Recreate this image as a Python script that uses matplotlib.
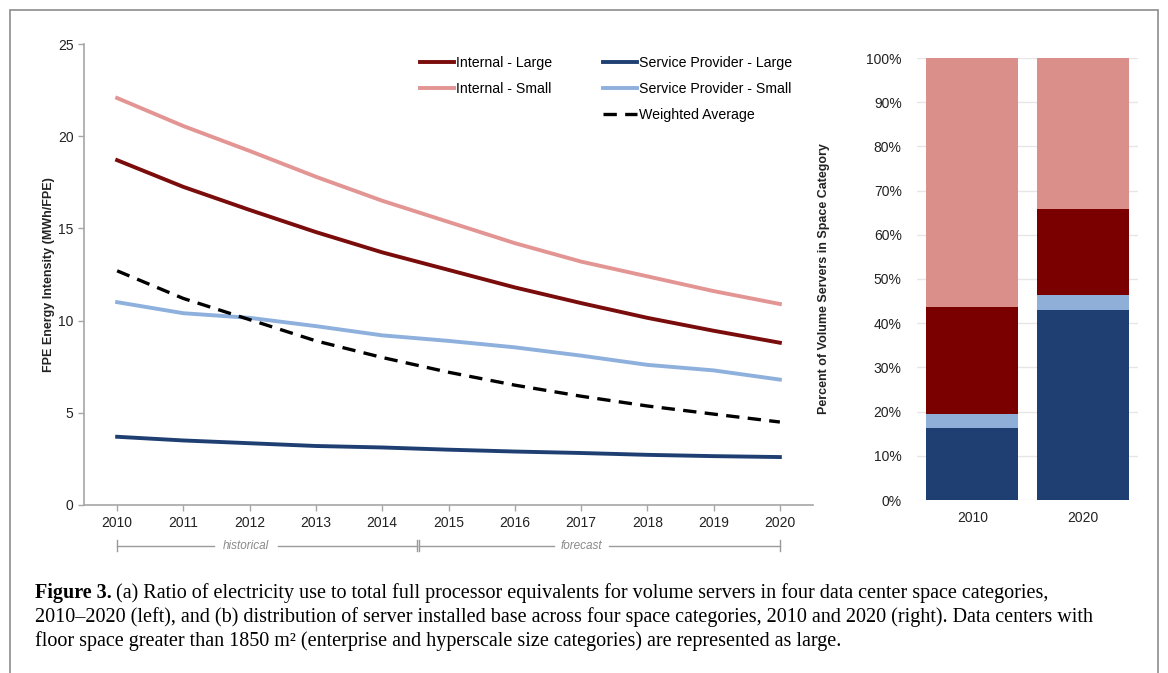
import numpy as np
import matplotlib.pyplot as plt
from matplotlib.lines import Line2D
from matplotlib.patches import Rectangle

plt.rcParams['font.family'] = ['Liberation Sans', 'DejaVu Sans']

# FPE energy intensity (MWh/FPE) by space category
years = [2010, 2011, 2012, 2013, 2014, 2015, 2016, 2017, 2018, 2019, 2020]
internal_large = [18.7, 17.25, 16.0, 14.8, 13.7, 12.75, 11.8, 10.95, 10.15, 9.45, 8.8]
internal_small = [22.07, 20.55, 19.2, 17.8, 16.5, 15.35, 14.2, 13.2, 12.4, 11.6, 10.9]
sp_large = [3.7, 3.5, 3.35, 3.2, 3.12, 3.0, 2.9, 2.82, 2.72, 2.65, 2.6]
sp_small = [11.0, 10.4, 10.15, 9.7, 9.2, 8.9, 8.55, 8.1, 7.6, 7.3, 6.8]
weighted_avg = [12.7, 11.2, 10.05, 8.9, 8.0, 7.2, 6.5, 5.9, 5.37, 4.93, 4.5]

# installed base share (%) in 2010 and 2020
bar_years = ['2010', '2020']
share_sp_large = [16.3, 42.9]
share_sp_small = [3.2, 3.5]
share_int_large = [24.1, 19.4]
share_int_small = [56.4, 34.2]

c_il = '#7a0c0c'
c_is = '#e39593'
c_spl = '#1f3f73'
c_sps = '#8eb0dd'
c_bar_il = '#7a0000'
c_bar_is = '#db8f8b'
c_bar_sps = '#8fafd8'
axis_grey = '#a6a6a6'
text_dark = '#222222'

fig = plt.figure(figsize=(11.68, 6.73), dpi=100)

# outer frame
fig.patches.append(Rectangle((10 / 1168, -0.05), 1148 / 1168, 1.05 - 10 / 673,
                             transform=fig.transFigure, fill=False,
                             edgecolor='#8c8c8c', linewidth=1.2))

# ---- left panel: energy intensity lines ----
ax = fig.add_axes([84 / 1168, 1 - 505 / 673, 729 / 1168, 461 / 673])
ax.plot(years, internal_large, color=c_il, lw=2.8, label='Internal - Large')
ax.plot(years, internal_small, color=c_is, lw=2.8, label='Internal - Small')
ax.plot(years, sp_large, color=c_spl, lw=2.8, label='Service Provider - Large')
ax.plot(years, sp_small, color=c_sps, lw=2.8, label='Service Provider - Small')
ax.plot(years, weighted_avg, color='black', lw=2.4, dashes=(4, 2.5),
        label='Weighted Average')

ax.set_xlim(2009.5, 2020.5)
ax.set_ylim(0, 25)
ax.set_xticks(years)
ax.set_yticks([0, 5, 10, 15, 20, 25])
for s in ['top', 'right']:
    ax.spines[s].set_visible(False)
for s in ['left', 'bottom']:
    ax.spines[s].set_color(axis_grey)
    ax.spines[s].set_linewidth(1.2)
ax.tick_params(colors=axis_grey, labelcolor=text_dark, labelsize=10,
               length=4, width=1)
ax.tick_params(axis='x', pad=4)
ax.set_ylabel('FPE Energy Intensity (MWh/FPE)', fontsize=9, fontweight='bold',
              color=text_dark, labelpad=2)

h = ax.get_legend_handles_labels()[0]
blank = Line2D([], [], color='none')
handles = [h[0], h[1], blank, h[2], h[3], h[4]]
labels = ['Internal - Large', 'Internal - Small', '',
          'Service Provider - Large', 'Service Provider - Small', 'Weighted Average']
ax.legend(handles, labels, ncol=2, loc='upper left',
          bbox_to_anchor=(326 / 729, 0.996), frameon=False, fontsize=10.2,
          handlelength=2.4, handletextpad=0.15, columnspacing=3.6,
          labelspacing=0.84, borderaxespad=0.3)

# historical / forecast brackets under the axis
tr = ax.get_xaxis_transform()
by = -0.088
seg_color = '#9a9a9a'
for x0, x1, txt in [(2010, 2014.52, 'historical'), (2014.56, 2020, 'forecast')]:
    mid = x0 + (x1 - x0) * 0.43 if txt == 'historical' else x0 + (x1 - x0) * 0.45
    half = 0.48 if txt == 'historical' else 0.42
    ax.plot([x0, mid - half], [by, by], color=seg_color, lw=1, transform=tr, clip_on=False)
    ax.plot([mid + half, x1], [by, by], color=seg_color, lw=1, transform=tr, clip_on=False)
    for xe in (x0, x1):
        ax.plot([xe, xe], [by - 0.012, by + 0.012], color=seg_color, lw=1,
                transform=tr, clip_on=False)
    ax.text(mid, by, txt, transform=tr, ha='center', va='center',
            fontsize=8.5, style='italic', color='#8a8a8a')

# ---- right panel: stacked share bars ----
bx = fig.add_axes([917 / 1168, 1 - 500 / 673, 221 / 1168, 442 / 673])
pos = np.arange(len(bar_years))
w = 0.83
bottom = np.zeros(len(bar_years))
for vals, col in [(share_sp_large, c_spl), (share_sp_small, c_bar_sps),
                  (share_int_large, c_bar_il), (share_int_small, c_bar_is)]:
    bx.bar(pos, vals, w, bottom=bottom, color=col, zorder=2)
    bottom += np.array(vals)
bx.set_xlim(-0.5, 1.5)
bx.set_ylim(0, 100)
bx.set_yticks(range(0, 101, 10))
bx.set_yticklabels([f'{v}%' for v in range(0, 101, 10)])
bx.set_xticks(pos)
bx.set_xticklabels(bar_years)
bx.grid(axis='y', color='#e6e6e6', lw=1, zorder=0)
for s in bx.spines.values():
    s.set_visible(False)
bx.tick_params(length=0, labelsize=10, labelcolor=text_dark)
bx.tick_params(axis='y', pad=11)
bx.tick_params(axis='x', pad=8)
bx.set_ylabel('Percent of Volume Servers in Space Category', fontsize=9,
              fontweight='bold', color=text_dark, labelpad=26)

# ---- caption ----
serif = ['Liberation Serif', 'DejaVu Serif']
cap_x = 35 / 1168
cap_size = 14.5
fig.canvas.draw()
lead = fig.text(cap_x, 1 - 598 / 673, 'Figure 3.', fontsize=cap_size,
                fontweight='bold', family=serif, va='baseline', color='black')
fig.canvas.draw()
bb = lead.get_window_extent()
gap = 4
fig.text((bb.x1 + gap) / 1168, 1 - 598 / 673,
         '(a) Ratio of electricity use to total full processor equivalents for volume '
         'servers in four data center space categories,',
         fontsize=cap_size, family=serif, va='baseline', color='black')
fig.text(cap_x, 1 - 622 / 673,
         '2010\u20132020 (left), and (b) distribution of server installed base across '
         'four space categories, 2010 and 2020 (right). Data centers with',
         fontsize=cap_size, family=serif, va='baseline', color='black')
fig.text(cap_x, 1 - 646 / 673,
         'floor space greater than 1850 m\u00b2 (enterprise and hyperscale size '
         'categories) are represented as large.',
         fontsize=cap_size, family=serif, va='baseline', color='black')

fig.savefig('out.png', dpi=100)
